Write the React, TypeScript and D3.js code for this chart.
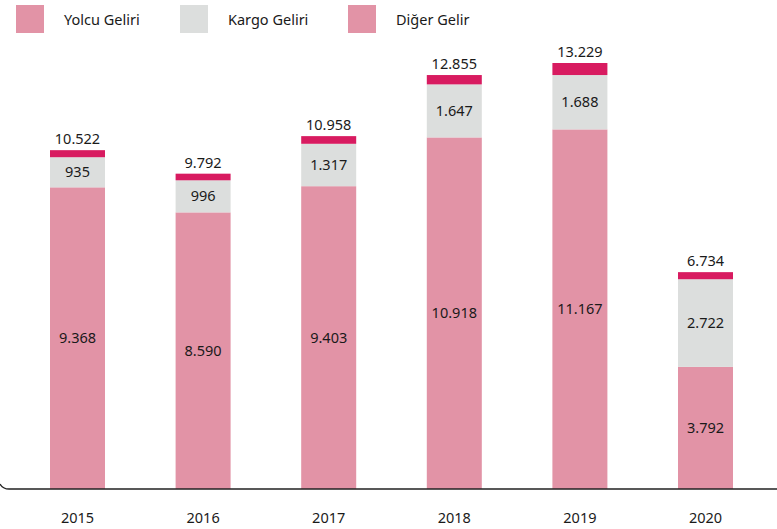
import React from "react";
import * as d3 from "d3";

const years = ["2015", "2016", "2017", "2018", "2019", "2020"];
const yolcu = [9368, 8590, 9403, 10918, 11167, 3792];
const kargo = [935, 996, 1317, 1647, 1688, 2722];
const totals = [10522, 9792, 10958, 12855, 13229, 6734];
const legendLabels = ["Yolcu Geliri", "Kargo Geliri", "Diğer Gelir"];

const PINK = "#e293a6";
const GRAY = "#dcdedd";
const RED = "#d81b60";
const FONT = "'Noto Sans', 'Open Sans', sans-serif";

const fmt = (v: number) => d3.format(",")(v).replace(/,/g, ".");

export default function App() {
  const W = 777, H = 529;
  const x = d3.scalePoint<string>().domain(years).range([77.5, 705.5]);
  const y = d3.scaleLinear().domain([0, 13229]).range([489, 63]);
  const bw = 55;
  const legendColors = [PINK, GRAY, PINK];
  const legendX = [16, 180, 348];

  return (
    <svg width={W} height={H} style={{ position: "absolute", left: 0, top: 0 }} fontFamily={FONT}>
      <rect width={W} height={H} fill="#fff" />
      {legendLabels.map((l, i) => (
        <g key={l}>
          <rect x={legendX[i]} y={5} width={28} height={28} fill={legendColors[i]} />
          <text x={legendX[i] + 48} y={24.5} fontSize={14.5} fill="#1a1a1a">{l}</text>
        </g>
      ))}
      {years.map((yr, i) => {
        const cx = x(yr)!;
        const x0 = cx - bw / 2;
        const yY = y(yolcu[i]);
        const yK = y(yolcu[i] + kargo[i]);
        const yT = y(totals[i]);
        return (
          <g key={yr}>
            <rect x={x0} y={yY} width={bw} height={y(0) - yY} fill={PINK} />
            <rect x={x0} y={yK} width={bw} height={yY - yK} fill={GRAY} />
            <rect x={x0} y={yT} width={bw} height={yK - yT} fill={RED} />
            <text x={cx} y={(y(0) + yY) / 2 + 5} textAnchor="middle" fontSize={14.5} fill="#1a1a1a">{fmt(yolcu[i])}</text>
            <text x={cx} y={(yY + yK) / 2 + 5} textAnchor="middle" fontSize={14.5} fill="#1a1a1a">{fmt(kargo[i])}</text>
            <text x={cx} y={yT - 6} textAnchor="middle" fontSize={14.5} fill="#1a1a1a">{fmt(totals[i])}</text>
            <text x={cx} y={523} textAnchor="middle" fontSize={14.5} fill="#1a1a1a">{yr}</text>
          </g>
        );
      })}
      <path d={`M0,484 Q3,489 9,489 L${W},489`} fill="none" stroke="#222" strokeWidth={1.3} />
    </svg>
  );
}
